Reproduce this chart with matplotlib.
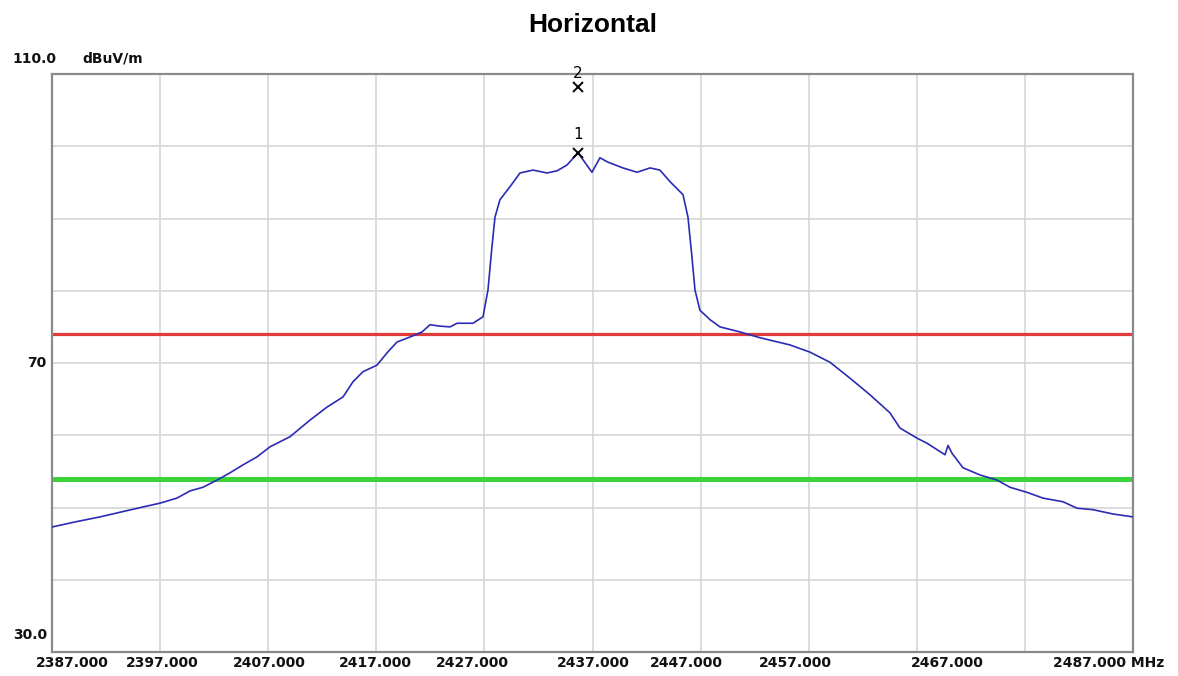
import numpy as np
import matplotlib.pyplot as plt
import matplotlib.transforms as mtransforms

# ---- trace data (frequency MHz, level dBuV/m) ----
freq = [2387.00, 2389.13, 2391.44, 2393.75, 2395.79, 2396.99, 2398.56, 2399.77,
        2400.97, 2402.27, 2403.47, 2404.67, 2405.96, 2407.17, 2409.02, 2410.87,
        2412.44, 2413.92, 2414.84, 2415.77, 2417.06, 2417.99, 2418.91, 2420.12,
        2421.23, 2421.97, 2422.89, 2423.82, 2424.47, 2425.95, 2426.87, 2427.33,
        2427.70, 2427.98, 2428.44, 2429.37, 2430.29, 2431.50, 2432.79, 2433.72,
        2434.64, 2435.66, 2436.95, 2437.69, 2438.43, 2439.82, 2441.12, 2442.32,
        2443.24, 2444.17, 2445.37, 2445.83, 2446.20, 2446.48, 2446.94, 2447.87,
        2448.79, 2450.64, 2452.49, 2455.27, 2457.12, 2458.97, 2460.82, 2462.67,
        2464.52, 2465.44, 2467.02, 2467.94, 2469.61, 2469.89, 2470.26, 2471.27,
        2472.85, 2474.42, 2475.62, 2477.19, 2478.67, 2480.52, 2481.82, 2483.30,
        2485.15, 2487.00]
level = [47.3, 48.0, 48.7, 49.5, 50.2, 50.6, 51.3, 52.3,
         52.8, 53.8, 54.8, 55.9, 57.0, 58.4, 59.8, 62.1,
         63.9, 65.3, 67.4, 68.8, 69.7, 71.4, 72.9, 73.6,
         74.3, 75.3, 75.1, 75.0, 75.5, 75.5, 76.4, 80.1,
         86.1, 90.2, 92.6, 94.4, 96.3, 96.7, 96.3, 96.6,
         97.4, 99.1, 96.4, 98.4, 97.8, 97.0, 96.4, 97.0,
         96.7, 95.1, 93.3, 90.2, 84.7, 80.1, 77.3, 76.0,
         75.0, 74.3, 73.5, 72.5, 71.5, 70.1, 67.9, 65.6,
         63.1, 61.0, 59.6, 58.9, 57.3, 58.6, 57.5, 55.5,
         54.5, 53.8, 52.8, 52.1, 51.3, 50.8, 49.9, 49.7,
         49.1, 48.7]

# limit lines
peak_limit = 74.0
avg_limit = 54.0

# markers
marker_names = ["1", "2"]
marker_freq = [2435.66, 2435.66]
marker_level = [99.1, 108.2]

# axis labels as printed by the receiver software
x_labels = ["2387.000", "2397.000", "2407.000", "2417.000", "2427.000",
            "2437.000", "2447.000", "2457.000", "2467.000", "2487.000 MHz"]
x_label_pos = [2388.85, 2397.2, 2407.1, 2416.9, 2425.9,
               2437.1, 2445.7, 2455.8, 2469.8, 2484.7]
y_labels = ["110.0", "70", "30.0"]
y_label_pos = [112.1, 70.0, 32.35]

fig = plt.figure(figsize=(11.78, 6.76), dpi=100)
ax = fig.add_axes([52 / 1178, 1 - 652 / 676, 1081 / 1178, 578 / 676])

ax.set_xlim(2387, 2487)
ax.set_ylim(30, 110)
ax.set_xticks(np.arange(2387, 2488, 10))
ax.set_yticks(np.arange(30, 111, 10))
ax.tick_params(length=0, labelbottom=False, labelleft=False)
ax.grid(True, color="#d6d6d6", linewidth=1.2)
ax.set_axisbelow(True)
for sp in ax.spines.values():
    sp.set_color("#8a8a8a")
    sp.set_linewidth(1.6)

ax.axhline(peak_limit, color="#e03a3a", linewidth=2.3, zorder=2)
ax.axhline(avg_limit, color="#3ad43a", linewidth=3.6, zorder=2)
ax.plot(freq, level, color="#2b2bb5", linewidth=1.2, zorder=3)

for name, f, lv in zip(marker_names, marker_freq, marker_level):
    ax.plot(f, lv, marker="x", color="black", markersize=7, mew=1.4, zorder=4)
    ax.annotate(name, (f, lv), xytext=(0, 13 if name == "1" else 10),
                textcoords="offset points", ha="center", va="center",
                fontsize=11, color="black")

tick_font = dict(family="DejaVu Sans", fontsize=10, fontweight="bold", color="#111111")

xtrans = mtransforms.blended_transform_factory(ax.transData, ax.transAxes)
for lab, pos in zip(x_labels, x_label_pos):
    ax.text(pos, -0.019, lab, transform=xtrans, ha="center", va="center",
            clip_on=False, **tick_font)

ytrans = mtransforms.blended_transform_factory(ax.transAxes, ax.transData)
ax.text(-40 / 1081, y_label_pos[0], y_labels[0], transform=ytrans,
        ha="left", va="center", clip_on=False, **tick_font)
ax.text(30 / 1081, y_label_pos[0], "dBuV/m", transform=ytrans,
        ha="left", va="center", clip_on=False, **tick_font)
ax.text(-6 / 1081, y_label_pos[1], y_labels[1], transform=ytrans,
        ha="right", va="center", clip_on=False, **tick_font)
ax.text(-5 / 1081, y_label_pos[2], y_labels[2], transform=ytrans,
        ha="right", va="center", clip_on=False, **tick_font)

fig.text(593 / 1178, 1 - 25 / 676, "Horizontal", ha="center", va="center",
         fontsize=19, fontweight="bold", family="Liberation Sans")

fig.savefig("out.png", dpi=100)
